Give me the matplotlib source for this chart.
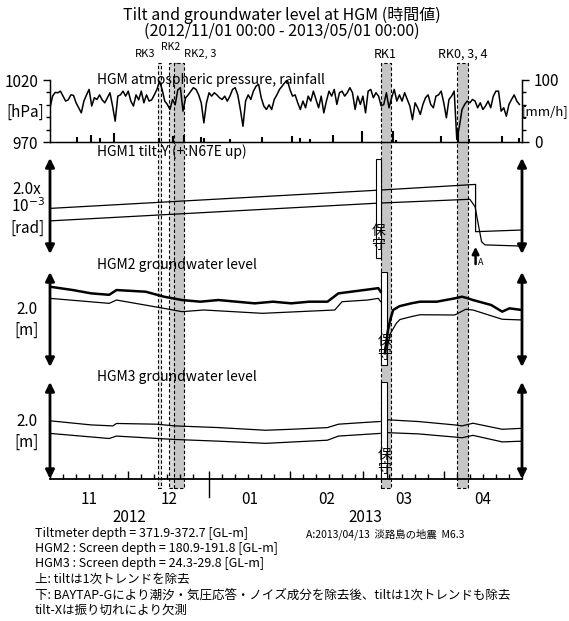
import numpy as np
import matplotlib
matplotlib.use('Agg')
import matplotlib.pyplot as plt
from matplotlib.patches import Rectangle
from matplotlib.transforms import blended_transform_factory

plt.rcParams['font.family'] = ['Noto Sans CJK JP', 'DejaVu Sans']

W, H = 569, 621

# x axis = days since 2012/11/01 00:00
# atmospheric pressure [hPa], one value per day
pressure = [997.6, 1007, 1010, 1009.7, 1011, 1007, 1003, 1004, 1008, 1007.6,
            1001.6, 997.6, 993.5, 1003, 1008, 1012.4, 999, 1005.7, 1004.3, 1008,
            1004, 1001.6, 1005.7, 1009.7, 999, 986.8, 1007, 1008, 1011, 1007,
            1011, 1003, 999, 1008, 1004, 1011, 1001.6, 1008, 1003, 1004,
            1008, 1012.4, 1019, 1012.4, 1003, 1000.3, 996.2, 1004.3, 1000, 1012,
            1013.8, 994.9, 1005.7, 1008, 1011, 1013.8, 1012.4, 1008, 1001.6, 985.4,
            1001.6, 1009.7, 1007, 1009.7, 1008, 1005.7, 1004.3, 1007, 1003, 1007,
            1012.4, 1013.8, 1008, 996.2, 982.7, 1003, 1008, 1004.3, 1011, 1015,
            1016.5, 1005.7, 999, 996.2, 1000, 996.2, 1004.3, 1008, 1012.4, 1015,
            1017.8, 1020, 1012.4, 1007, 1008, 1001.6, 996.2, 1003, 997.6, 1007,
            1003, 1011, 1004.3, 997.6, 1007, 993.5, 1003, 1011, 1007, 1012.4,
            1000.3, 1009.7, 1011, 1007, 1009.7, 1013.8, 1009.7, 996.2, 1007, 1000.3,
            1007, 993.5, 1011, 1012.4, 1005.7, 1009.7, 1007, 999, 1000.3, 1009.7,
            997.6, 1005.7, 1012.4, 1003, 1008, 1003, 1009.7, 1004.3, 999, 988,
            1001.6, 997.6, 992.2, 1000.3, 1005.7, 1008, 1000.3, 997.6, 1007, 1008,
            1011, 1001.6, 989.5, 1004.3, 1007, 1011, 972, 982.7, 996.2, 1000.3,
            1003, 1001.6, 1004.3, 1003, 997.6, 1001.6, 996.2, 999, 1003, 997.6,
            1007, 1011, 1011, 994.9, 997.6, 990.8, 1000.3, 1004.3, 1008, 1003,
            1000.3]
pressure_day = np.arange(len(pressure))

# rainfall [mm/h]
rain_day = [10.4, 15.8, 19.0, 24.7, 41.9, 47.0, 51.4, 57.8, 59.0, 69.2, 81.3, 92.7,
            95.9, 99.7, 108.7, 119.5, 131.5, 132.8, 150.0, 156.4, 160.8, 173.5, 179.9]
rain_mm = [7.5, 12, 6.5, 14.5, 6.5, 9, 12, 7.5, 6.5, 5, 8, 9.5,
           6.5, 5, 12, 17, 18, 4, 9, 20, 5, 9, 6.5]

# HGM1 tilt-Y [1e-3 rad]
tilt_up_day = [0, 126, 163.2, 163.2, 181]
tilt_up = [0.95, 1.33, 1.45, 0.465, 0.50]
tilt_lo_day = [0, 126, 161, 163, 164.3, 165.5, 166.8, 181]
tilt_lo = [0.69, 1.06, 1.14, 0.985, 0.60, 0.256, 0.19, 0.165]

# HGM2 groundwater level [m]
g2_up_day = [0, 8.8, 15.8, 22.7, 25.5, 36.7, 43.7, 50.6, 57.6, 64.6, 71.5, 78.5, 85.5,
             92.5, 99.4, 106.4, 110.6, 120.4, 125.9, 126.8, np.nan,
             128.4, 129.5, 130.5, 131.6, 134, 138.5, 141.9, 148.3, 155.2, 158, 160,
             162.2, 169.2, 173.4, 176.2, 181]
g2_up = [1.69, 1.62, 1.55, 1.52, 1.62, 1.585, 1.48, 1.41, 1.375, 1.41, 1.375, 1.34, 1.375,
         1.34, 1.375, 1.375, 1.55, 1.62, 1.66, 1.585, np.nan,
         0.29, 0.75, 1.0, 1.2, 1.28, 1.34, 1.375, 1.375, 1.445, 1.48, 1.45,
         1.41, 1.305, 1.165, 1.235, 1.2]
g2_lo_day = [0, 22.7, 25.5, 43.7, 50.6, 59, 81.5, 109.2, 112, 121.8, 125.9, 126.8, np.nan,
             129.1, 130.5, 132.8, 134.2, 138.5, 141.9, 155.2, 159.4, 162.2, 173.4, 181]
g2_lo = [1.445, 1.34, 1.41, 1.235, 1.165, 1.2, 1.13, 1.2, 1.375, 1.41, 1.445, 1.375, np.nan,
         0.36, 0.70, 0.92, 1.0, 1.06, 1.10, 1.095, 1.215, 1.2, 1.005, 0.99]

# HGM3 groundwater level [m]
g3_up_day = [0, 15.8, 24.1, 25.5, 40.9, 47.8, 64.6, 82.7, 92.5, 106.4, 110.6, 120.4, 126.6,
             np.nan, 129.6, 141.3, 155.2, 158, 162.2, 173.4, 181]
g3_up = [1.2, 1.115, 1.095, 1.145, 1.13, 1.095, 1.06, 1.005, 1.025, 1.06, 1.13, 1.165, 1.185,
         np.nan, 1.22, 1.185, 1.115, 1.095, 1.15, 1.025, 1.045]
g3_lo_day = [0, 22.7, 25.5, 47.8, 64.6, 82.7, 106.4, 110.6, 126.6,
             np.nan, 129.6, 141.3, 155.2, 158, 162.2, 173.4, 181]
g3_lo = [0.94, 0.835, 0.885, 0.815, 0.78, 0.735, 0.8, 0.885, 0.94,
         np.nan, 0.955, 0.93, 0.865, 0.85, 0.9, 0.765, 0.78]

# work periods (start day, end day, fill)
rk_start = [41.4, 45.5, 47.7, 126.8, 155.9]
rk_end = [42.5, 48.6, 51.5, 130.6, 160.4]
rk_fill = ['#e4e4e4', '#d6d6d6', '#c6c6c6', '#c6c6c6', '#c6c6c6']

# maintenance gaps (保守)
maint_tilt = (125.0, 126.8)
maint_gw = (126.8, 129.1)

quake_day = 163.2

month_start = [0, 30, 61, 92, 120, 151, 181]
month_labels = ['11', '12', '01', '02', '03', '04']

notes = ['Tiltmeter depth = 371.9-372.7 [GL-m]',
         'HGM2 : Screen depth = 180.9-191.8 [GL-m]',
         'HGM3 : Screen depth = 24.3-29.8 [GL-m]',
         '上: tiltは1次トレンドを除去',
         '下: BAYTAP-Gにより潮汐・気圧応答・ノイズ成分を除去後、tiltは1次トレンドも除去',
         'tilt-Xは振り切れにより欠測']

fig = plt.figure(figsize=(W / 100, H / 100), dpi=100)


def fy(py):
    return 1 - py / H


def fx(px):
    return px / W


def panel(y0, y1):
    a = fig.add_axes([fx(50), fy(y1), 472 / W, (y1 - y0) / H])
    a.set_facecolor('none')
    a.set_xlim(0, 181)
    return a


ax_p = panel(80, 142)
ax_t = panel(158, 254)
ax_g2 = panel(272, 367)
ax_g3 = panel(382, 479)

tr = blended_transform_factory(ax_g3.transData, fig.transFigure)

# shaded work periods
for s, e, c in zip(rk_start, rk_end, rk_fill):
    r = Rectangle((s, fy(488)), e - s, fy(63) - fy(488), transform=tr,
                  facecolor=c, edgecolor='k', lw=0.8, ls=(0, (3, 2)), zorder=-1)
    fig.add_artist(r)

fig.text(40.5, fy(54), 'RK3', transform=tr, ha='right', va='center', fontsize=8)
fig.text(46.3, fy(47.5), 'RK2', transform=tr, ha='center', va='center', fontsize=7.5)
fig.text(51.5, fy(54), 'RK2, 3', transform=tr, ha='left', va='center', fontsize=8)
fig.text(128.7, fy(54), 'RK1', transform=tr, ha='center', va='center', fontsize=9)
fig.text(158.2, fy(54), 'RK0, 3, 4', transform=tr, ha='center', va='center', fontsize=9)

# pressure / rainfall
ax_p.plot(pressure_day, pressure, color='k', lw=1.1)
ax_p.set_ylim(970, 1020)
ax_p.set_yticks([970, 1020])
ax_p.set_yticks([980, 990, 1000, 1010], minor=True)
ax_p.set_yticklabels(['970', '1020'], fontsize=11)
ax_p.tick_params(axis='y', which='major', length=5, width=1)
ax_p.tick_params(axis='y', which='minor', length=3, width=1)
ax_p.set_xticks([])
ax_p.spines['top'].set_visible(False)
for s in ['left', 'right', 'bottom']:
    ax_p.spines[s].set_linewidth(1.0)

ax_r = ax_p.twinx()
ax_r.set_facecolor('none')
ax_r.vlines(rain_day, 0, rain_mm, color='k', lw=1.5)
ax_r.set_ylim(0, 100)
ax_r.set_yticks([0, 100])
ax_r.set_yticks([20, 40, 60, 80], minor=True)
ax_r.set_yticklabels(['0', '100'], fontsize=11)
ax_r.tick_params(axis='y', which='major', length=5, width=1)
ax_r.tick_params(axis='y', which='minor', length=3, width=1)
ax_r.spines['top'].set_visible(False)

fig.text(fx(25), fy(112), '[hPa]', ha='center', va='center', fontsize=11)
fig.text(fx(545), fy(112), '[mm/h]', ha='center', va='center', fontsize=9.5)

# tilt, groundwater panels
for a in [ax_t, ax_g2, ax_g3]:
    a.set_ylim(0, 2.0)
    a.set_yticks([])
    a.set_xticks([])
    for s in a.spines.values():
        s.set_visible(False)
    for xa in [0, 1]:
        a.annotate('', xy=(xa, 1), xytext=(xa, 0), xycoords='axes fraction',
                   arrowprops=dict(arrowstyle='<|-|>', color='k', lw=2.0,
                                   mutation_scale=13, shrinkA=0, shrinkB=0),
                   annotation_clip=False)

ax_t.plot(tilt_up_day, tilt_up, color='k', lw=0.9, zorder=2)
ax_t.plot(tilt_lo_day, tilt_lo, color='k', lw=0.9, zorder=2)
ax_t.add_patch(Rectangle((maint_tilt[0], -0.08), maint_tilt[1] - maint_tilt[0], 2.06,
                         facecolor='white', edgecolor='k', lw=0.8, zorder=3,
                         clip_on=False))
ax_t.annotate('', xy=(quake_day, 0.15), xytext=(quake_day, -0.21),
              arrowprops=dict(arrowstyle='-|>', color='k', lw=1.8, mutation_scale=10,
                              shrinkA=0, shrinkB=0), annotation_clip=False)
ax_t.text(quake_day + 1.0, -0.17, 'A', fontsize=6.5, ha='left', va='center')

ax_g2.plot(g2_up_day, g2_up, color='k', lw=1.8, zorder=2)
ax_g2.plot(g2_lo_day, g2_lo, color='k', lw=0.9, zorder=2)
ax_g2.add_patch(Rectangle((maint_gw[0], 0.04), maint_gw[1] - maint_gw[0], 1.96,
                          facecolor='white', edgecolor='k', lw=0.8, zorder=1))

ax_g3.plot(g3_up_day, g3_up, color='k', lw=0.9, zorder=2)
ax_g3.plot(g3_lo_day, g3_lo, color='k', lw=0.9, zorder=2)
ax_g3.add_patch(Rectangle((maint_gw[0], 0), maint_gw[1] - maint_gw[0], 2.0,
                          facecolor='white', edgecolor='k', lw=0.8, zorder=1))

mid_t = sum(maint_tilt) / 2
mid_g = sum(maint_gw) / 2
for x, py in [(mid_t, 238), (mid_g + 0.3, 348), (mid_g + 0.3, 462)]:
    fig.text(x, fy(py), '保\n守', transform=tr, ha='center', va='center',
             fontsize=10, linespacing=1.0, zorder=5)

# bottom time axis
ax_g3.spines['bottom'].set_visible(True)
ax_g3.spines['bottom'].set_linewidth(1.3)
ax_g3.set_xticks(month_start)
minor = [m + k for m in month_start[:-1] for k in [5, 10, 15, 20, 25]]
ax_g3.set_xticks(minor, minor=True)
ax_g3.set_xticklabels([])
ax_g3.tick_params(axis='x', which='major', direction='in', length=6, width=1)
ax_g3.tick_params(axis='x', which='minor', direction='in', length=3.5, width=1)
ax_g3.plot([61, 61], [fy(479), fy(497)], transform=tr, color='k', lw=1.0, clip_on=False)

for i, lab in enumerate(month_labels):
    mid = (month_start[i] + month_start[i + 1]) / 2
    fig.text(mid, fy(500), lab, transform=tr, ha='center', va='center', fontsize=11)
fig.text(30.5, fy(517), '2012', transform=tr, ha='center', va='center', fontsize=11)
fig.text(121, fy(517), '2013', transform=tr, ha='center', va='center', fontsize=11)

# left scale labels
fig.text(fx(27), fy(190), '2.0x', ha='center', va='center', fontsize=11)
fig.text(fx(28), fy(207), '10$^{-3}$', ha='center', va='center', fontsize=11)
fig.text(fx(27), fy(228), '[rad]', ha='center', va='center', fontsize=11)
fig.text(fx(27), fy(310), '2.0', ha='center', va='center', fontsize=11)
fig.text(fx(27), fy(330), '[m]', ha='center', va='center', fontsize=11)
fig.text(fx(27), fy(421), '2.0', ha='center', va='center', fontsize=11)
fig.text(fx(27), fy(442), '[m]', ha='center', va='center', fontsize=11)

# panel titles
fig.text(fx(97), fy(80), 'HGM atmospheric pressure, rainfall', va='center', fontsize=10)
fig.text(fx(97), fy(152), 'HGM1 tilt-Y (+:N67E up)', va='center', fontsize=10)
fig.text(fx(97), fy(265), 'HGM2 groundwater level', va='center', fontsize=10)
fig.text(fx(97), fy(377), 'HGM3 groundwater level', va='center', fontsize=10)

# title (two lines in one text)
fig.text(fx(282), fy(23.5), 'Tilt and groundwater level at HGM (時間値)\n'
         '(2012/11/01 00:00 - 2013/05/01 00:00)',
         ha='center', va='center', fontsize=11.5, linespacing=0.92)

# notes
for i, t in enumerate(notes):
    fig.text(fx(35), fy(533 + i * 15.5), t, va='center', fontsize=9)
fig.text(fx(306), fy(534), 'A:2013/04/13  淡路島の地震  M6.3', va='center', fontsize=7.5)

fig.savefig('out.png', dpi=100)
